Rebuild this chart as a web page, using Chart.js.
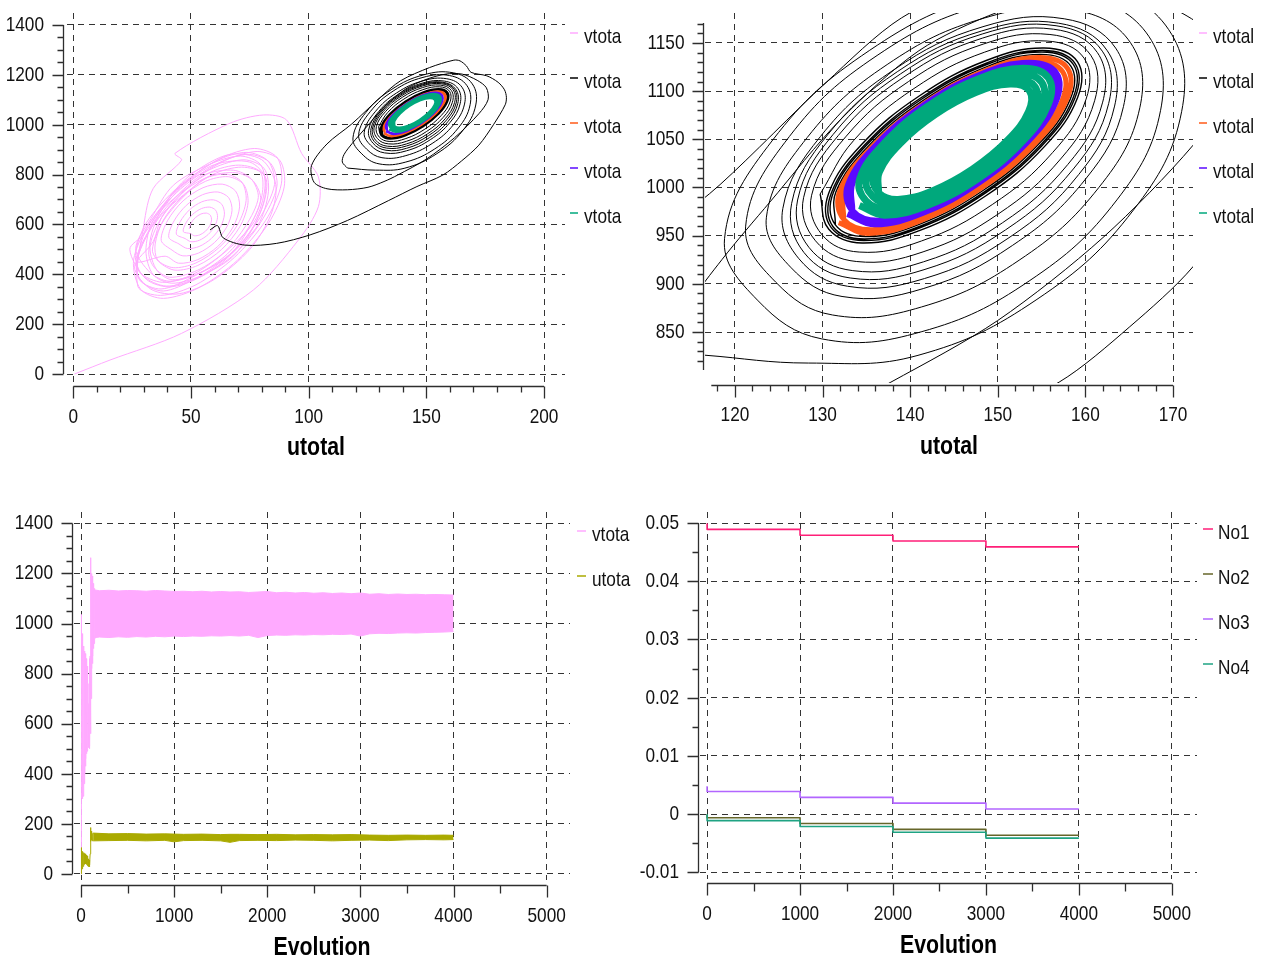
<!DOCTYPE html>
<html>
<head>
<meta charset="utf-8">
<title>utotal / vtotal</title>
<script src="https://cdn.jsdelivr.net/npm/chart.js@4.4.1/dist/chart.umd.min.js"></script>
<style>
  html, body { margin: 0; padding: 0; background: #fff; }
  #wrap { position: relative; width: 1266px; height: 960px; }
  #wrap canvas { position: absolute; }
</style>
</head>
<body>
<div id="wrap">
  <canvas id="phaseAll" width="633" height="480" style="left:0;top:0"></canvas>
  <canvas id="phaseZoom" width="633" height="480" style="left:633px;top:0"></canvas>
  <canvas id="evoTotals" width="633" height="480" style="left:0;top:480px"></canvas>
  <canvas id="evoNo" width="633" height="480" style="left:633px;top:480px"></canvas>
</div>
<script>
// ---------- phase portraits: [utotal, vtotal] ----------
const pinkLead = [[0.5,0],[15.6,56],[46,163],[76.5,337],[95.6,537],[104.1,671],[104.1,791],[97,885],[90.6,1019],[80.7,1039],[66.6,1006],[43.2,885],[46,858],[34,745],[30,600]];
const pinkA  = [[27.39,351.8],[37.1,315.4],[52.12,358.0],[68.47,468.0],[81.74,616.2],[88.38,762.6],[86.61,868.2],[76.9,904.6],[61.88,862.0],[45.53,752.0],[32.26,603.8],[25.62,457.4]];
const pinkA2 = [[28.6,339.8],[38.3,303.4],[53.3,346],[69.7,456],[82.9,604.2],[89.6,750.6],[87.8,856.2],[78.1,892.6],[63.1,850],[46.7,740],[33.5,591.8],[26.8,445.4]];
const pinkB  = [[29.17,368.7],[38.29,333.0],[51.0,378],[67.42,471.8],[79.63,609.1],[86.5,752],[83.83,845.3],[74.71,881.0],[62.0,848],[45.58,742.2],[32.0,598],[27.37,468.2]];
const pinkB2 = [[28.17,376.7],[37.29,341.0],[50.0,386],[66.42,479.8],[78.63,617.1],[85.5,760],[82.83,853.3],[73.71,889.0],[61.0,856],[44.58,750.2],[31.0,606],[26.37,476.2]];
const pinkC  = [[29.5,395],[39.49,352.7],[52.46,385.6],[66.38,477.6],[78.5,598],[82.89,730.9],[81.06,824.4],[72.51,859.3],[59.54,826.4],[44.0,742],[34.48,608.0],[28.0,488]];
const pinkC2 = [[28.0,410],[38.0,367.7],[51.0,400.6],[64.9,492.6],[77.0,613],[81.4,745.9],[79.6,839.4],[71.0,874.3],[58.0,841.4],[42.5,757],[33.0,623],[26.5,503]];
const pinkD  = [[32.72,406.4],[40.69,372.2],[52.62,400.3],[66.5,478],[75.4,598.9],[80.15,716.2],[79.5,810],[70.31,837.9],[58.38,809.7],[45.67,726.7],[34.0,618],[30.85,493.9]];
const pinkD2 = [[33.92,398.4],[41.89,364.2],[53.82,392.3],[67.7,470],[76.6,590.9],[81.35,708.2],[80.7,802],[71.51,829.9],[59.58,801.7],[46.87,718.7],[35.2,610],[32.05,485.9]];
const pinkE  = [[34.5,426.3],[41.0,388],[52.8,416.2],[64.29,490.1],[73.3,594.9],[78.6,708],[75.5,783.7],[68.1,817.3],[56.0,800],[45.71,719.9],[36.7,615.2],[32.6,507.7]];
const pinkE2 = [[35.5,416.3],[42.0,378],[53.8,406.2],[65.3,480.1],[74.3,584.9],[79.6,698],[76.5,773.7],[69.1,807.3],[57.0,790],[46.7,709.9],[37.7,605.2],[33.6,497.7]];
const pinkF  = [[36.6,448.0],[43.23,416.5],[52.88,435.3],[62.97,499.2],[70.78,591.3],[74.23,686.7],[72.4,760.0],[65.77,791.5],[56.12,772.8],[46.03,708.8],[38.22,616.8],[34.77,521.3]];
const pinkF2 = [[35.8,458.0],[42.43,426.5],[52.08,445.3],[62.17,509.2],[69.98,601.3],[73.43,696.7],[71.6,770.0],[64.97,801.5],[55.32,782.8],[45.23,718.8],[37.42,626.8],[33.97,531.3]];
const pinkL  = [[26,430],[33,340],[45,322],[60,380],[75,500],[84,640],[86,760],[80,860],[66,880],[50,800],[40,700],[30,560],[24,500]];
const pinkM  = [[31,380],[42,350],[58,410],[72,530],[80,660],[82,780],[75,850],[60,840],[47,760],[37,650],[29,520],[27,450]];
const pinkG  = [[39.03,472.5],[44.73,444.4],[52.89,458.8],[61.37,511.7],[67.87,589.3],[70.65,670.4],[68.97,733.5],[63.27,761.6],[55.11,747.3],[46.63,694.3],[40.13,616.8],[37.35,535.6]];
const pinkH  = [[41.96,497.0],[46.57,473.9],[53.18,485.1],[60.01,527.6],[65.22,590.1],[67.43,655.7],[66.04,707.0],[61.43,730.1],[54.82,718.9],[47.99,676.4],[42.78,613.9],[40.57,548.3]];
const pinkI  = [[44.89,521.6],[48.43,503.5],[53.46,511.5],[58.64,543.5],[62.58,590.9],[64.21,641.1],[63.11,680.4],[59.57,698.5],[54.54,690.5],[49.36,658.5],[45.42,611.1],[43.79,560.9]];
const pinkJ  = [[47.49,543.3],[50.0,530.6],[53.58,536.5],[57.28,559.4],[60.1,593.3],[61.28,628.8],[60.51,656.7],[58.0,669.4],[54.42,663.5],[50.72,640.6],[47.9,606.7],[46.72,571.2]];
const pinkK  = [[49.77,563.1],[51.43,554.6],[53.77,558.2],[56.18,573.0],[58.01,595.1],[58.75,618.4],[58.23,636.9],[56.57,645.4],[54.23,641.9],[51.82,627.0],[49.99,605.0],[49.25,581.6]];

const blackLead = [[58.1,578],[61.3,595],[63.7,546],[72.9,517],[86.4,524],[100.6,558],[116.5,616],[134,696],[146,752],[157,798],[165,855],[172.3,918],[178.5,1000],[183.5,1080],[184,1110],[183.2,1140],[180.5,1170],[175.7,1196],[169,1210],[167,1236],[164.3,1256],[161.7,1259],[151.3,1229],[139,1176],[130.4,1109],[118.3,1003],[107.8,923],[101.2,836],[102.3,769],[107.8,743],[116.5,739],[125.2,749],[132,772],[137.8,798],[150,862],[162,948],[172.3,1044],[176.2,1100],[175.5,1148],[171.6,1178],[165.2,1203],[158.3,1203],[150,1182],[141,1142],[132,1070],[124,985],[118.5,925],[115,880],[114.3,850],[116.5,826]];
const black10 = [[128.39,817.8],[140.89,825.8],[154.47,883.9],[165.49,976.7],[170.99,1079.1],[169.5,1163.9],[161.41,1208.2],[148.91,1200.2],[135.33,1142.1],[124.31,1049.3],[118.81,946.9]];
const black9  = [[122.57,883.1],[129.9,842.9],[141.25,850.2],[153.58,903.0],[163.59,987.1],[168.58,1080.1],[167.23,1157.0],[159.9,1197.1],[148.55,1189.8],[136.22,1137.0],[126.21,1052.9],[121.22,959.9]];
const black8  = [[124.65,901.8],[131.13,867.7],[141.29,876.0],[152.43,924.5],[161.55,1000.2],[166.21,1082.8],[165.15,1150.2],[158.67,1184.3],[148.51,1176.0],[137.37,1127.6],[128.25,1051.9],[123.59,969.2]];
const black7  = [[126.35,917.3],[132.22,886.9],[141.49,895.1],[151.66,939.8],[160.03,1008.9],[164.34,1083.9],[163.45,1144.7],[157.58,1175.1],[148.31,1166.9],[138.14,1122.2],[129.77,1053.1],[125.46,978.1]];
const black6  = [[127.3,926.1],[132.85,897.5],[141.63,905.5],[151.28,947.9],[159.23,1013.4],[163.33,1084.5],[162.5,1141.9],[156.95,1170.5],[148.17,1162.5],[138.52,1120.1],[130.57,1054.6],[126.47,983.6]];
const black5  = [[127.87,932.6],[133.15,906.1],[141.58,914.7],[150.9,956.1],[158.62,1019.2],[162.65,1087.0],[161.93,1141.5],[156.65,1167.9],[148.22,1159.3],[138.9,1117.9],[131.18,1054.8],[127.15,987.0]];
const black4  = [[128.43,938.0],[133.45,913.7],[141.53,922.9],[150.52,963.3],[157.99,1023.9],[161.97,1088.6],[161.37,1140.0],[156.35,1164.3],[148.27,1155.1],[139.28,1114.7],[131.81,1054.1],[127.83,989.4]];
const black3  = [[129.19,944.7],[133.85,923.2],[141.47,933.2],[150.0,972.2],[157.17,1029.6],[161.05,1090.0],[160.61,1137.3],[155.95,1158.8],[148.33,1148.8],[139.8,1109.9],[132.63,1052.5],[128.75,992.0]];
const black2  = [[129.95,950.8],[134.18,933.0],[141.29,944.5],[149.37,982.3],[156.25,1036.2],[160.08,1091.8],[159.85,1134.2],[155.62,1152.0],[148.51,1140.5],[140.43,1102.7],[133.55,1048.8],[129.72,993.2]];
const black1  = [[130.71,956.6],[134.52,942.4],[141.12,955.4],[148.73,992.0],[155.32,1042.4],[159.1,1093.2],[159.09,1130.7],[155.28,1144.8],[148.68,1131.8],[141.07,1095.2],[134.48,1044.8],[130.7,994.0]];
const black0c = [[130.99,958.3],[134.69,945.0],[141.12,958.1],[148.57,994.1],[155.04,1043.4],[158.79,1092.7],[158.81,1128.9],[155.11,1142.2],[148.68,1129.1],[141.23,1093.1],[134.76,1043.8],[131.01,994.5]];
const black0  = [[131.18,959.5],[134.81,946.6],[141.13,959.8],[148.47,995.4],[154.85,1043.9],[158.57,1092.4],[158.62,1127.7],[154.99,1140.6],[148.67,1127.4],[141.33,1091.8],[134.95,1043.3],[131.23,994.8]];
const blackLast = [[131.46,961.2],[134.99,949.0],[141.17,962.2],[148.35,997.1],[154.61,1044.6],[158.27,1091.7],[158.34,1126.0],[154.81,1138.2],[148.63,1125.0],[141.45,1090.1],[135.19,1042.6],[131.53,995.5],[131.46,961.2]];

const orangeOuter = [[131.84,963.5],[135.22,952.3],[141.18,965.6],[148.15,999.7],[154.24,1045.6],[157.84,1091.0],[157.96,1123.7],[154.58,1134.9],[148.62,1121.7],[141.65,1087.5],[135.56,1041.6],[131.96,996.2]];
const orangeInner = [[132.41,967.0],[135.65,956.2],[141.36,968.8],[148.03,1001.4],[153.86,1045.4],[157.29,1088.9],[157.39,1120.2],[154.15,1131.0],[148.44,1118.4],[141.77,1085.8],[135.94,1041.8],[132.51,998.4],[132.41,967.0]];
const purpleOuter = [[132.83,972.5],[135.95,961.8],[141.41,973.6],[147.78,1004.7],[153.33,1046.8],[156.59,1088.5],[156.67,1118.7],[153.55,1129.4],[148.09,1117.6],[141.72,1086.5],[136.17,1044.4],[132.91,1002.7]];
const purpleInner = [[133.39,976.0],[136.38,965.5],[141.62,976.5],[147.69,1006.0],[152.98,1046.1],[156.06,1086.1],[156.11,1115.2],[153.12,1125.7],[147.88,1114.7],[141.81,1085.2],[136.52,1045.1],[133.44,1005.1],[133.39,976.0]];
const green1 = [[134.21,981.4],[137.07,971.3],[142.03,981.6],[147.81,1009.6],[152.83,1047.8],[155.75,1085.9],[155.79,1113.7],[152.93,1123.7],[147.97,1113.4],[142.19,1085.4],[137.17,1047.2],[134.25,1009.2]];
const green2 = [[134.97,986.0],[137.59,977.0],[142.19,986.9],[147.55,1013.1],[152.23,1048.5],[154.97,1083.6],[155.03,1109.0],[152.41,1118.0],[147.81,1108.1],[142.45,1081.9],[137.77,1046.6],[135.03,1011.4]];
const green3 = [[135.73,990.6],[138.12,982.8],[142.35,992.2],[147.3,1016.5],[151.63,1049.1],[154.18,1081.3],[154.27,1104.4],[151.88,1112.2],[147.65,1102.8],[142.7,1078.5],[138.37,1045.9],[135.82,1013.7]];
const green4 = [[136.39,994.7],[138.6,987.6],[142.52,996.5],[147.11,1019.1],[151.14,1049.3],[153.52,1079.0],[153.61,1100.3],[151.4,1107.4],[147.48,1098.5],[142.89,1075.9],[138.86,1045.7],[136.48,1016.0],[136.39,994.7]];

const phaseAllXTicks = [0, 50, 100, 150, 200];
const phaseAllYTicks = [0, 200, 400, 600, 800, 1000, 1200, 1400];
const phaseZoomXTicks = [120, 130, 140, 150, 160, 170];
const phaseZoomYTicks = [850, 900, 950, 1000, 1050, 1100, 1150];

// ---------- evolution of the totals ----------
const vStartT = [0,2,5,8,11,14,17,20,23,26,29,32,35,38,41,44,47,50,53,56,59,62,65,68,71,74,77,80,83,86,89,92,95,98,101,104,107,110,113,116,119,122,125,128,131,134,137,140,143,146,149,152];
const vStart  = [0,1036,380,1000,330,960,300,930,310,910,330,900,360,890,400,880,430,870,460,860,480,850,490,830,500,700,520,680,505,760,500,860,510,870,560,1100,1263,700,1200,820,1190,840,1170,870,1160,900,1150,920,1140,935,1135,940];
const vBandT  = [150,200,300,400,500,600,700,800,900,1000,1100,1200,1300,1400,1500,1600,1700,1800,1900,2000,2100,2200,2300,2400,2500,2600,2700,2800,2900,3000,3100,3200,3300,3400,3500,3600,3700,3800,3900,4000];
const vUpper  = [1134,1131,1133,1130,1132,1131,1129,1132,1130,1128,1129,1127,1129,1126,1128,1126,1127,1124,1126,1128,1123,1125,1122,1124,1121,1123,1120,1122,1119,1122,1117,1119,1116,1118,1116,1117,1115,1116,1115,1114];
const vLower  = [944,946,944,947,945,948,946,949,947,950,948,950,949,951,950,952,950,953,944,952,954,953,955,954,956,955,957,956,958,950,959,961,960,962,963,962,964,965,966,968];
const uStartT = [0,2,5,8,11,14,17,20,23,26,29,32,35,38,41,44,47,50,53,56,59,62,65,68,71,74,77,80,83,86,89,92,95,98,101,104,107,110,113,116,119,122,125,128];
const uStart  = [0,105,25,95,20,90,25,88,30,85,35,80,38,82,40,78,42,80,40,75,38,70,35,72,33,65,30,60,30,55,28,50,35,80,120,185,130,170,135,165,132,162,134,161];
const uBandT  = [130,300,500,700,900,1000,1100,1300,1500,1600,1700,1900,2100,2300,2500,2700,2900,3100,3300,3500,3700,3900,4000];
const uUpper  = [163,160,161,159,160,159,158,159,157,158,158,157,158,156,157,156,157,155,154,155,154,155,154];
const uLower  = [132,133,134,132,134,128,133,134,132,126,133,134,133,135,134,132,134,135,133,136,137,136,137];

// ---------- evolution of No1..No4 ----------
const stepEvolution = [0, 0, 1000, 2000, 3000, 4000];
const no1 = [0.0499, 0.0489, 0.0479, 0.0469, 0.0459, 0.0459];
const no2 = [0.0000, -0.0006, -0.0016, -0.0026, -0.0036, -0.0036];
const no3 = [0.0048, 0.0039, 0.0029, 0.0019, 0.0009, 0.0009];
const no4 = [0.0000, -0.0011, -0.0021, -0.0031, -0.0041, -0.0041];

const evoXTicks = [0, 1000, 2000, 3000, 4000, 5000];
const totalsYTicks = [0, 200, 400, 600, 800, 1000, 1200, 1400];
const noYTicks = [-0.01, 0, 0.01, 0.02, 0.03, 0.04, 0.05];

// ---------- colours ----------
const PINK = '#ffaaff', BLACK = '#000000', ORANGE = '#ff5a19', PURPLE = '#5a0aff', GREEN = '#00a87c';
const OLIVE = '#aaaa00';
const NO1 = '#ff1f78', NO2 = '#66662a', NO3 = '#b266ff', NO4 = '#1fa383';
const FONT = "'Liberation Sans', Arial, Helvetica, sans-serif";
const NARROW = 0.82;   // horizontal squeeze for the condensed look of the labels

const pairs = (xs, ys) => xs.map((x, i) => [x, ys[i]]);

function steps(from, to, step) {
  const out = [];
  for (let i = Math.ceil(from / step - 1e-6); i * step <= to + 1e-9; i++) out.push(+(i * step).toFixed(6));
  return out;
}
const isMultiple = (v, m) => Math.abs(v / m - Math.round(v / m)) < 1e-6;

function narrowText(ctx, text, x, y, align) {
  ctx.save();
  ctx.translate(x, y);
  ctx.scale(NARROW, 1);
  ctx.textAlign = align;
  ctx.fillText(text, 0, 0);
  ctx.restore();
}

// axis lines, ticks, labels, titles and legends drawn around the plot area
const frames = {
  phaseAll: {
    y: { from: 0, to: 1400, major: 200, minor: 50, gap: 4, labels: phaseAllYTicks, pad: 23 },
    x: { from: 0, to: 200, major: 50, minor: 10, gap: 2.5, labels: phaseAllXTicks, dy: 34 },
    title: 'utotal', titleDy: 65, legendY: 37, mark: [5, 13], textX: 19,
    legend: [{ label: 'vtota', color: PINK }, { label: 'vtota', color: BLACK }, { label: 'vtota', color: ORANGE }, { label: 'vtota', color: PURPLE }, { label: 'vtota', color: GREEN }]
  },
  phaseZoom: {
    y: { from: 810.6, to: 1170.8, major: 50, minor: 10, gap: 2.5, labels: phaseZoomYTicks, pad: 20.5 },
    x: { from: 117.3, to: 170, major: 10, minor: 2, gap: 1.5, labels: phaseZoomXTicks, dy: 32 },
    title: 'utotal', titleDy: 64, legendY: 37, mark: [6, 14], textX: 20,
    legend: [{ label: 'vtotal', color: PINK }, { label: 'vtotal', color: BLACK }, { label: 'vtotal', color: ORANGE }, { label: 'vtotal', color: PURPLE }, { label: 'vtotal', color: GREEN }]
  },
  evoTotals: {
    y: { from: 0, to: 1400, major: 200, minor: 50, gap: 2.5, labels: totalsYTicks, pad: 21 },
    x: { from: 0, to: 5000, major: 1000, minor: 500, gap: 4.6, minorLen: 8, labels: evoXTicks, dy: 36 },
    title: 'Evolution', titleDy: 68, legendY: 55, mark: [7, 16], textX: 22,
    legend: [{ label: 'vtota', color: PINK }, { label: 'utota', color: OLIVE }]
  },
  evoNo: {
    y: { from: -0.01, to: 0.05, major: 0.01, minor: 0.005, gap: 2, labels: noYTicks, pad: 21 },
    x: { from: 0, to: 5000, major: 1000, minor: 500, gap: 3.6, minorLen: 8, labels: evoXTicks, dy: 35 },
    title: 'Evolution', titleDy: 67, legendY: 53, mark: [6, 16], textX: 21,
    legend: [{ label: 'No1', color: NO1 }, { label: 'No2', color: NO2 }, { label: 'No3', color: NO3 }, { label: 'No4', color: NO4 }]
  }
};

const decor = {
  id: 'decor',
  afterDraw(chart) {
    const cfg = frames[chart.canvas.id];
    const ctx = chart.ctx, area = chart.chartArea;
    const xs = chart.scales.x, ys = chart.scales.y;
    ctx.save();
    ctx.setLineDash([]);
    ctx.strokeStyle = '#2e2e2e';
    ctx.lineWidth = 1.3;
    ctx.beginPath();
    const ax = Math.round(area.left - cfg.y.gap) + 0.5;
    ctx.moveTo(ax, ys.getPixelForValue(cfg.y.from));
    ctx.lineTo(ax, ys.getPixelForValue(cfg.y.to));
    steps(cfg.y.from, cfg.y.to, cfg.y.minor).forEach(v => {
      const py = Math.round(ys.getPixelForValue(v)) + 0.5;
      ctx.moveTo(ax, py);
      ctx.lineTo(ax - (isMultiple(v, cfg.y.major) ? 11 : 6), py);
    });
    const ay = Math.round(area.bottom + cfg.x.gap) + 0.5;
    ctx.moveTo(xs.getPixelForValue(cfg.x.from), ay);
    ctx.lineTo(xs.getPixelForValue(cfg.x.to), ay);
    steps(cfg.x.from, cfg.x.to, cfg.x.minor).forEach(v => {
      const px = Math.round(xs.getPixelForValue(v)) + 0.5;
      ctx.moveTo(px, ay);
      ctx.lineTo(px, ay + (isMultiple(v, cfg.x.major) ? 12 : (cfg.x.minorLen || 6)));
    });
    ctx.stroke();

    // tick labels
    ctx.fillStyle = '#111';
    ctx.font = '21px ' + FONT;
    ctx.textBaseline = 'middle';
    cfg.y.labels.forEach(v => narrowText(ctx, String(v), area.left - cfg.y.pad, ys.getPixelForValue(v), 'right'));
    cfg.x.labels.forEach(v => narrowText(ctx, String(v), xs.getPixelForValue(v), area.bottom + cfg.x.dy, 'center'));

    // axis title
    ctx.fillStyle = '#000';
    ctx.font = 'bold 26px ' + FONT;
    narrowText(ctx, cfg.title, (area.left + area.right) / 2, area.bottom + cfg.titleDy, 'center');

    // legend
    ctx.font = '21px ' + FONT;
    cfg.legend.forEach((item, i) => {
      const y = cfg.legendY + i * 45;
      ctx.strokeStyle = item.color;
      ctx.lineWidth = 1.5;
      ctx.beginPath();
      ctx.moveTo(area.right + cfg.mark[0], y - 4);
      ctx.lineTo(area.right + cfg.mark[1], y - 4);
      ctx.stroke();
      ctx.fillStyle = '#111';
      narrowText(ctx, item.label, area.right + cfg.textX, y, 'left');
    });
    ctx.restore();
  }
};

function axis(min, max, ticks, size, vertical) {
  return {
    type: 'linear', min, max, bounds: 'data',
    afterBuildTicks: s => { s.ticks = ticks.map(v => ({ value: v })); },
    afterFit: s => { if (vertical) s.width = size; else s.height = size; },
    ticks: { display: false },
    grid: { color: '#333333', lineWidth: 1, drawTicks: false },
    border: { display: false, dash: [6, 5] }
  };
}

function line(data, color, width, extra) {
  return Object.assign({ data, borderColor: color, backgroundColor: color, borderWidth: width, pointRadius: 0, fill: false, tension: 0 }, extra || {});
}

function makeChart(id, datasets, xAxis, yAxis, padding) {
  // later datasets are painted on top
  datasets.forEach((d, i) => { d.order = datasets.length - i; });
  return new Chart(document.getElementById(id), {
    type: 'line',
    data: { datasets },
    options: {
      responsive: false, animation: false, devicePixelRatio: 1, events: [],
      layout: { padding },
      elements: { point: { radius: 0 }, line: { capBezierPoints: false, borderJoinStyle: 'round' } },
      plugins: { legend: { display: false }, tooltip: { enabled: false } },
      scales: { x: xAxis, y: yAxis }
    },
    plugins: [decor]
  });
}

const pinkPath = [].concat(pinkLead, pinkA, pinkA2, pinkB, pinkB2, pinkC, pinkC2, pinkD, pinkD2, pinkE, pinkE2, pinkF, pinkF2, pinkL, pinkM, pinkG, pinkH, pinkI, pinkJ, pinkK);
const blackSpiral = [blackLead[blackLead.length - 1]].concat(black10, black9, black8, black7, black6, black5, black4, black3, black2);
// the last turns pile up on the cycle, so they are stroked a little heavier
const blackSettled = [black2[black2.length - 1]].concat(black1, black0c, black0, blackLast);
const orangeBand = [].concat(orangeOuter, orangeInner);
const purpleBand = [].concat(purpleOuter, purpleInner);
const greenBand = [].concat(green1, green2, green3, green4);

function phaseSets(w) {
  return [
    line(pinkPath, PINK, 1, { tension: 0.3 }),
    line(blackLead, BLACK, 1, { tension: 0.3 }),
    line(blackSpiral, BLACK, 1, { tension: 0.4 }),
    line(blackSettled, BLACK, w.settled, { tension: 0.4 }),
    line(orangeBand, ORANGE, w.orange, { tension: 0.4 }),
    line(purpleBand, PURPLE, w.purple, { tension: 0.4 }),
    line(greenBand, GREEN, w.green, { tension: 0.4 })
  ];
}

makeChart('phaseAll', phaseSets({ settled: 1.2, orange: 1.6, purple: 1.8, green: 2.4 }),
  axis(-2.68, 208.9, phaseAllXTicks, 97, false),
  axis(-36.1, 1448.1, phaseAllYTicks, 67, true),
  { top: 13, right: 68, left: 0, bottom: 0 });

makeChart('phaseZoom', phaseSets({ settled: 1.4, orange: 5, purple: 6, green: 7 }),
  axis(116.58, 172.28, phaseZoomXTicks, 97, false),
  axis(797.1, 1181.1, phaseZoomYTicks, 72, true),
  { top: 13, right: 73, left: 0, bottom: 0 });

makeChart('evoTotals', [
    line(pairs(vBandT, vUpper), PINK, 1, { fill: '+1' }),
    line(pairs(vBandT, vLower), PINK, 1),
    line(pairs(vStartT, vStart), PINK, 1),
    line(pairs(uBandT, uUpper), OLIVE, 1, { fill: '+1' }),
    line(pairs(uBandT, uLower), OLIVE, 1),
    line(pairs(uStartT, uStart), OLIVE, 1)
  ],
  axis(-75.2, 5251, evoXTicks, 80, false),
  axis(-24.4, 1445.5, totalsYTicks, 74, true),
  { top: 32, right: 63, left: 0, bottom: 0 });

makeChart('evoNo', [
    line(pairs(stepEvolution, no1), NO1, 1.6, { stepped: 'before' }),
    line(pairs(stepEvolution, no2), NO2, 1.6, { stepped: 'before' }),
    line(pairs(stepEvolution, no3), NO3, 1.6, { stepped: 'before' }),
    line(pairs(stepEvolution, no4), NO4, 1.6, { stepped: 'before' })
  ],
  axis(-76.4, 5271, evoXTicks, 81, false),
  axis(-0.01112, 0.05189, noYTicks, 67, true),
  { top: 32, right: 69, left: 0, bottom: 0 });
</script>
</body>
</html>
